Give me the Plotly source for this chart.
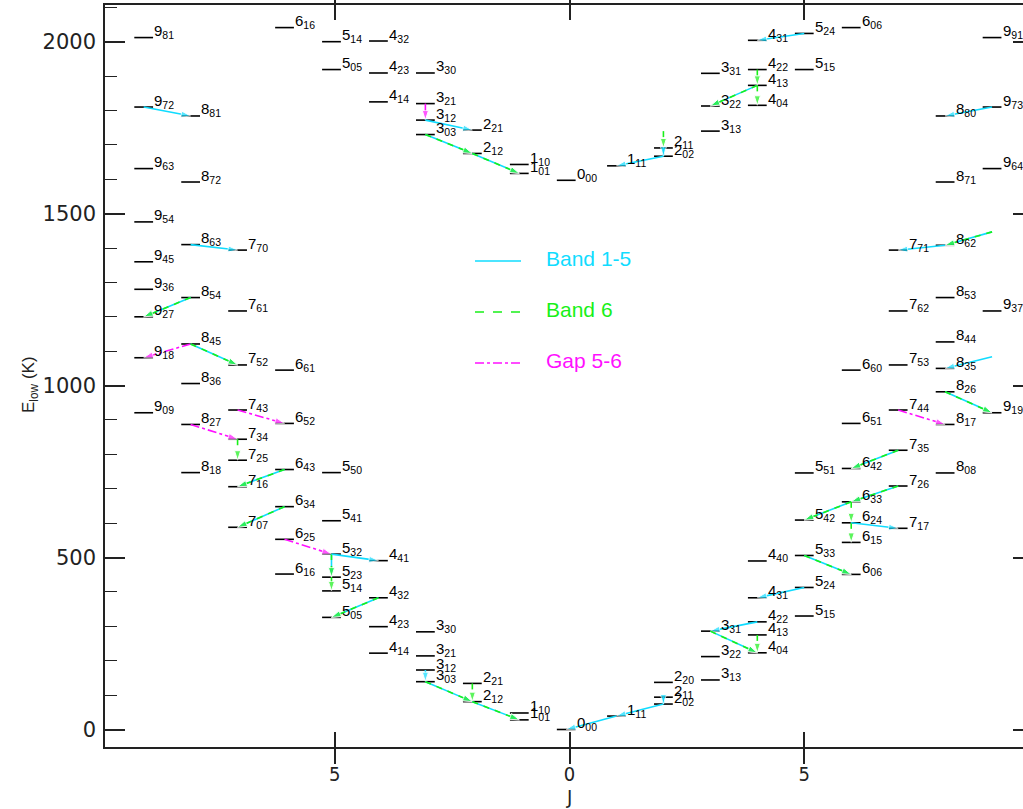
import plotly.graph_objects as go

# ---------------- data ----------------
# Ortho levels (left half, J mirrored), ground set incl. high-J arm
ORTHO_LEVELS = ["9_81", "9_72", "8_81", "9_63", "8_72", "9_54", "8_63", "7_70", "9_45", "9_36",
                "8_54", "7_61", "9_27", "8_45", "9_18", "7_52", "6_61", "8_36", "9_09", "7_43",
                "8_27", "6_52", "7_34", "7_25", "8_18", "6_43", "5_50", "7_16", "6_34", "5_41",
                "7_07", "6_25", "5_32", "4_41", "6_16", "5_23", "5_14", "4_32", "5_05", "4_23",
                "3_30", "4_14", "3_21", "3_12", "3_03", "2_21", "2_12", "1_10", "1_01"]
ORTHO_E = [2012, 1810, 1784, 1631, 1592, 1476, 1410, 1394, 1360, 1280,
           1256, 1217, 1200, 1121, 1081, 1060, 1045, 1006, 921, 929,
           887, 890, 844, 783, 747, 756, 747, 706, 648, 607,
           588, 553, 510, 491, 452, 443, 403, 383, 326, 299,
           284, 222, 214, 173, 139, 134, 81, 48, 28]

# Ortho levels of the upper ladder
ORTHO_UP_LEVELS = ["6_16", "5_14", "4_32", "5_05", "4_23", "3_30", "4_14", "3_21", "3_12", "3_03",
                   "2_21", "2_12", "1_10", "1_01"]
ORTHO_UP_E = [2041, 2000, 2002, 1919, 1909, 1909, 1825, 1820, 1772, 1730,
              1743, 1675, 1643, 1617]

# Para levels (right half)
PARA_LEVELS = ["0_00", "1_11", "2_02", "2_11", "2_20", "3_13", "3_22", "4_04", "3_31", "4_13",
               "4_22", "5_15", "4_31", "5_24", "4_40", "5_33", "6_06", "6_15", "6_24", "5_42",
               "7_17", "6_33", "7_26", "5_51", "8_08", "6_42", "7_35", "6_51", "8_17", "7_44",
               "9_19", "8_26", "6_60", "7_53", "8_35", "8_44", "7_62", "8_53", "9_37", "8_62",
               "7_71", "8_71", "9_64", "8_80", "9_73", "9_91"]
PARA_E = [0, 39, 74, 94, 137, 144, 212, 223, 286, 275,
          313, 330, 383, 413, 490, 506, 451, 544, 601, 609,
          585, 662, 708, 746, 746, 759, 812, 890, 887, 929,
          921, 982, 1045, 1060, 1050, 1127, 1217, 1256, 1217, 1408,
          1394, 1592, 1631, 1784, 1810, 2012]

# Para levels of the upper ladder
PARA_UP_LEVELS = ["0_00", "1_11", "2_02", "2_11", "3_13", "3_22", "4_04", "4_13", "3_31", "4_22",
                  "5_15", "4_31", "5_24", "6_06"]
PARA_UP_E = [1597, 1639, 1667, 1691, 1740, 1813, 1815, 1873, 1908, 1919,
             1919, 2004, 2024, 2041]

# Transition end points whose levels are not drawn (para side)
HIDDEN_LEVELS = ["p:9_55", "p:9_46", "pu:2_20"]
HIDDEN_E = [1447, 1084, 1740]

# Transitions: upper level -> lower level, band class
TR_FROM = ["o:9_72", "o:8_63", "o:8_54", "o:8_45", "o:8_45", "o:7_43", "o:8_27", "o:7_34", "o:6_43",
           "o:6_34", "o:6_25", "o:5_32", "o:5_23", "o:5_32", "o:4_32", "o:3_12", "o:3_03", "o:2_21",
           "o:2_12",
           "p:1_11", "p:2_02", "p:2_11", "p:4_22", "p:3_31", "p:4_13", "p:5_24", "p:5_33", "p:6_33",
           "p:7_26", "p:6_33", "p:6_24", "p:6_24", "p:7_35", "p:7_44", "p:8_26", "p:9_46", "p:9_55",
           "p:8_62", "p:9_73",
           "ou:3_21", "ou:3_12", "ou:3_03", "ou:2_12",
           "pu:2_20", "pu:2_11", "pu:2_02", "pu:4_13", "pu:4_22", "pu:4_13", "pu:5_24"]
TR_TO = ["o:8_81", "o:7_70", "o:9_27", "o:9_18", "o:7_52", "o:6_52", "o:7_34", "o:7_25", "o:7_16",
         "o:7_07", "o:5_32", "o:5_23", "o:5_14", "o:4_41", "o:5_05", "o:3_03", "o:2_12", "o:2_12",
         "o:1_01",
         "p:0_00", "p:1_11", "p:2_02", "p:3_31", "p:4_04", "p:4_04", "p:4_31", "p:6_06", "p:5_42",
         "p:6_33", "p:6_24", "p:6_15", "p:7_17", "p:6_42", "p:8_17", "p:9_19", "p:8_35", "p:8_62",
         "p:7_71", "p:8_80",
         "ou:3_12", "ou:2_21", "ou:2_12", "ou:1_01",
         "pu:2_11", "pu:2_02", "pu:1_11", "pu:3_22", "pu:4_13", "pu:4_04", "pu:4_31"]
TR_BAND = ["c", "c", "cg", "m", "cg", "m", "m", "g", "cg",
           "cg", "m", "cg", "g", "c", "cg", "c", "cg", "g",
           "cg",
           "c", "c", "c", "c", "cg", "g", "c", "cg", "cg",
           "cg", "g", "g", "c", "cg", "m", "cg", "c", "cg",
           "c", "c",
           "m", "c", "cg", "cg",
           "g", "c", "c", "cg", "g", "g", "c"]

LEGEND_NAMES = ["Band 1-5", "Band 6", "Gap 5-6"]

# ---------------- styling ----------------
CYAN = "#10DCFF"
GREEN = "#18F018"
MAGENTA = "#FF10FF"
LEGEND_COLORS = [CYAN, GREEN, MAGENTA]
LEGEND_DASH = ["solid", "dash", "dashdot"]

W, H = 1023, 809
ML, MR, MT, MB = 105, 0, 5, 62
PW, PH = W - ML - MR, H - MT - MB
XR = [-9.894, 9.659]
YR = [-50.9, 2106.7]
HALF = 0.2


def xpos(side, J):
    if side.startswith("o") or J == 0:
        return -(J + 0.07)
    return float(J)


levels = {}
for side, names, energies in [("o", ORTHO_LEVELS, ORTHO_E), ("ou", ORTHO_UP_LEVELS, ORTHO_UP_E),
                              ("p", PARA_LEVELS, PARA_E), ("pu", PARA_UP_LEVELS, PARA_UP_E)]:
    for n, e in zip(names, energies):
        J = int(n.split("_")[0])
        levels[f"{side}:{n}"] = (xpos(side, J), e, n, True)
for key, e in zip(HIDDEN_LEVELS, HIDDEN_E):
    side, n = key.split(":")
    J = int(n.split("_")[0])
    levels[key] = (xpos(side, J), e, n, False)

fig = go.Figure()

# level bars
lx, ly = [], []
annotations = []
for key, (xc, e, n, shown) in levels.items():
    if not shown:
        continue
    lx += [xc - HALF, xc + HALF, None]
    ly += [e, e, None]
    J, k = n.split("_")
    annotations.append(dict(x=xc + HALF - 0.02, y=e, xref="x", yref="y",
                            text=f"{J}<sub>{k}</sub>", showarrow=False,
                            xanchor="left", yanchor="middle", yshift=6,
                            font=dict(family="Liberation Sans, Arial", size=15, color="black")))
fig.add_trace(go.Scatter(x=lx, y=ly, mode="lines", line=dict(color="black", width=1.6),
                         hoverinfo="skip", showlegend=False))

# transitions
for f, t, b in zip(TR_FROM, TR_TO, TR_BAND):
    x0, y0 = levels[f][0], levels[f][1]
    x1, y1 = levels[t][0], levels[t][1]
    if b in ("c", "cg"):
        fig.add_trace(go.Scatter(x=[x0, x1], y=[y0, y1], mode="lines+markers",
                                 line=dict(color=CYAN, width=1.6),
                                 marker=dict(symbol="arrow", size=[0, 10], angleref="previous",
                                             color=CYAN),
                                 hoverinfo="skip", showlegend=False))
    if b in ("g", "cg"):
        fig.add_trace(go.Scatter(x=[x0, x1], y=[y0, y1], mode="lines+markers",
                                 line=dict(color=GREEN, width=1.6, dash="6px,6px"),
                                 marker=dict(symbol="arrow", size=[0, 10], angleref="previous",
                                             color=GREEN),
                                 hoverinfo="skip", showlegend=False))
    if b == "m":
        fig.add_trace(go.Scatter(x=[x0, x1], y=[y0, y1], mode="lines+markers",
                                 line=dict(color=MAGENTA, width=1.6, dash="dashdot"),
                                 marker=dict(symbol="arrow", size=[0, 10], angleref="previous",
                                             color=MAGENTA),
                                 hoverinfo="skip", showlegend=False))

# invisible trace to anchor right-hand tick axis
fig.add_trace(go.Scatter(x=[0], y=[0], yaxis="y2", mode="markers",
                         marker=dict(size=0, opacity=0), hoverinfo="skip", showlegend=False))


def px2x(px):
    return (px - ML) / PW


def py2y(py):
    return 1 - (py - MT) / PH


# hand-placed legend
shapes = []
for i, (name, col, dash) in enumerate(zip(LEGEND_NAMES, LEGEND_COLORS, LEGEND_DASH)):
    yy = 261 + 51 * i
    shapes.append(dict(type="line", xref="paper", yref="paper", x0=px2x(475), x1=px2x(521),
                       y0=py2y(yy), y1=py2y(yy), line=dict(color=col, width=1.6, dash=dash)))
    annotations.append(dict(x=px2x(544), y=py2y(yy - 3), xref="paper", yref="paper", text=name,
                            showarrow=False, xanchor="left", yanchor="middle",
                            font=dict(family="Liberation Sans, Arial", size=21, color=col)))

# axis titles
annotations.append(dict(x=px2x(569), y=py2y(797), xref="paper", yref="paper", text="J",
                        showarrow=False, xanchor="center", yanchor="middle",
                        font=dict(family="Liberation Sans Narrow, DejaVu Sans Condensed, Liberation Sans",
                                  size=20, color="#222")))
annotations.append(dict(x=px2x(30), y=py2y(385), xref="paper", yref="paper",
                        text="E<sub>low</sub> (K)", textangle=-90,
                        showarrow=False, xanchor="center", yanchor="middle",
                        font=dict(family="Liberation Sans, Arial", size=17, color="#222")))

fig.update_layout(
    width=W, height=H,
    margin=dict(l=ML, r=MR, t=MT, b=MB),
    paper_bgcolor="white", plot_bgcolor="white",
    showlegend=False,
    shapes=shapes,
    annotations=annotations,
    xaxis=dict(range=XR, showgrid=False, zeroline=False, showline=True, linecolor="#222",
               linewidth=1.5, mirror="allticks", ticks="inside", ticklen=15, tickwidth=1.5,
               tickcolor="#222", tickvals=[-5, 0, 5], ticktext=["5", "0", "5"],
               ticklabelstandoff=8,
               tickfont=dict(family="Liberation Sans Narrow, DejaVu Sans Condensed, Liberation Sans",
                             size=20, color="#222")),
    yaxis=dict(range=YR, showgrid=False, zeroline=False, showline=True, linecolor="#222",
               linewidth=1.5, mirror=False, ticks="inside", ticklen=20, tickwidth=1.5,
               tickcolor="#222", dtick=500, tick0=0,
               minor=dict(dtick=100, ticks="inside", ticklen=12, tickwidth=1.3, tickcolor="#222"),
               ticklabelstandoff=3,
               tickfont=dict(family="DejaVu Sans", size=21, color="#222")),
    yaxis2=dict(range=YR, overlaying="y", side="right", showgrid=False, zeroline=False,
                showline=False, ticks="inside", ticklen=10, tickwidth=1.5, tickcolor="#222",
                dtick=500, tick0=0, showticklabels=False),
)

fig.write_html("out.html", config={"displayModeBar": False},
               post_script="document.body.style.margin='0';document.body.style.padding='0';"
                           "document.documentElement.style.overflow='hidden';")
